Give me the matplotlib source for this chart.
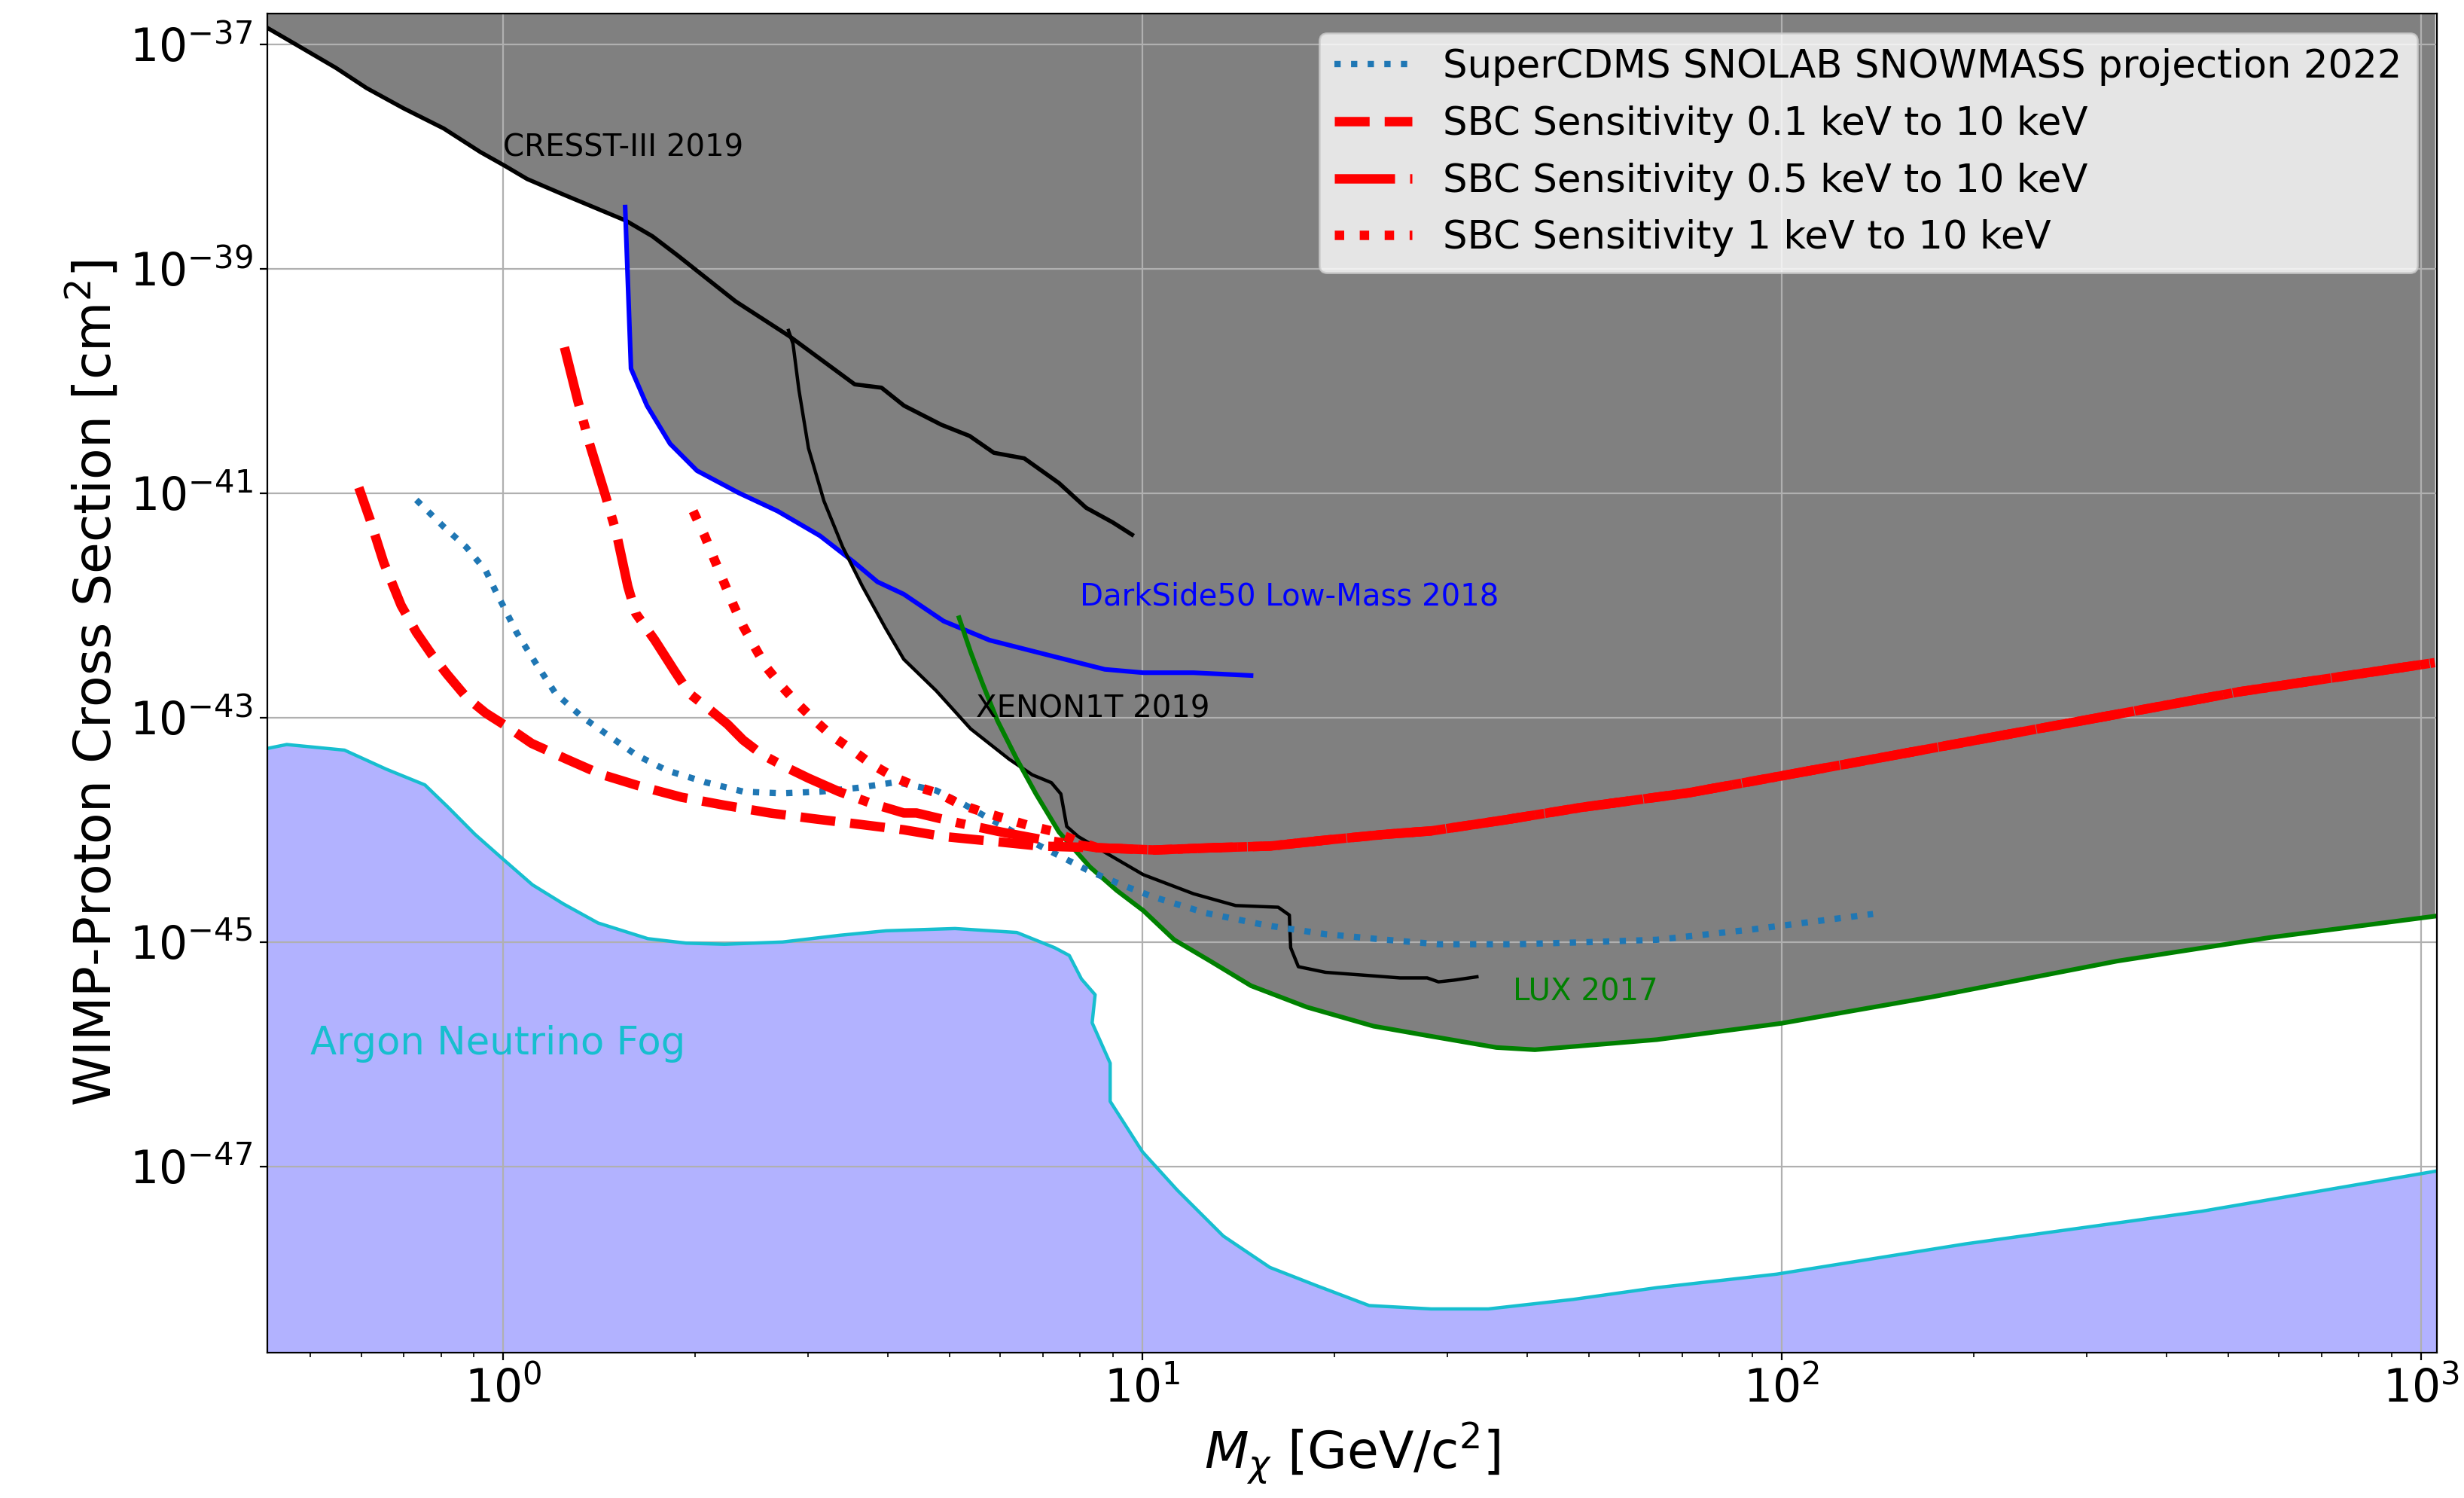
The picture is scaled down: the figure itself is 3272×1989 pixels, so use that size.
"""WIMP-proton SI exclusion limits, SBC sensitivity projections and the argon neutrino fog."""
import matplotlib
matplotlib.use("Agg")
import matplotlib.pyplot as plt
from matplotlib.ticker import NullLocator
import numpy as np

CRESST_M = [0.427, 0.474, 0.548, 0.612, 0.699, 0.808, 0.922, 1.005, 1.091, 1.233, 1.555,
            1.713, 1.875, 2.311, 2.804, 3.55, 3.91, 4.24, 4.85, 5.37, 5.86, 6.54, 7.41,
            8.17, 8.99, 9.64]
CRESST_LXS = [-36.85, -37.00, -37.21, -37.39, -37.57, -37.75, -37.96, -38.08, -38.20, -38.33,
              -38.57, -38.71, -38.88, -39.29, -39.60, -40.03, -40.06, -40.22, -40.39, -40.49,
              -40.64, -40.69, -40.91, -41.13, -41.26, -41.37]

DS50_M = [1.553, 1.586, 1.680, 1.826, 2.012, 2.343, 2.69, 3.133, 3.55, 3.853, 4.236, 4.89,
          5.77, 7.21, 8.74, 10.04, 12.03, 14.80]
DS50_LXS = [-38.45, -39.89, -40.22, -40.56, -40.80, -41.00, -41.16, -41.38, -41.62, -41.79,
            -41.90, -42.14, -42.31, -42.45, -42.57, -42.60, -42.60, -42.625]

XENON_M = [2.797, 2.843, 2.904, 3.006, 3.178, 3.40, 3.65, 3.964, 4.236, 4.76, 5.39, 6.19,
           6.73, 7.21, 7.46, 7.62, 7.94, 8.74, 10.04, 12.03, 14.0, 16.32, 16.99, 17.07,
           17.55, 19.35, 22.16, 25.31, 27.92, 29.07, 30.74, 33.39]
XENON_LXS = [-39.55, -39.67, -40.08, -40.60, -41.07, -41.48, -41.83, -42.20, -42.48, -42.76,
             -43.10, -43.37, -43.51, -43.58, -43.68, -43.97, -44.06, -44.20, -44.40, -44.57,
             -44.675, -44.69, -44.76, -45.05, -45.22, -45.27, -45.295, -45.32, -45.32,
             -45.355, -45.34, -45.31]

LUX_M = [5.17, 5.39, 5.62, 5.94, 6.365, 6.82, 7.41, 8.28, 9.12, 10.04, 11.22, 12.78, 14.80,
         18.09, 23.01, 28.31, 35.81, 41.13, 63.85, 99.9, 173.3, 335, 581, 1052]
LUX_LXS = [-42.11, -42.415, -42.69, -43.03, -43.37, -43.68, -44.02, -44.33, -44.54, -44.72,
           -44.98, -45.17, -45.39, -45.58, -45.75, -45.84, -45.94, -45.96, -45.87, -45.725,
           -45.486, -45.17, -44.96, -44.77]

FOG_M = [0.428, 0.459, 0.565, 0.657, 0.755, 0.821, 0.904, 0.995, 1.112, 1.243, 1.408, 1.685,
         1.935, 2.222, 2.738, 3.365, 3.976, 5.095, 6.365, 7.29, 7.69, 8.035, 8.44, 8.35, 8.91,
         8.91, 10.01, 11.34, 13.39, 15.84, 18.69, 22.65, 28.31, 34.78, 47.26, 63.9, 98.3,
         194.2, 454, 1061]
FOG_LXS = [-43.275, -43.24, -43.29, -43.46, -43.60, -43.80, -44.04, -44.25, -44.49, -44.66,
           -44.83, -44.97, -45.01, -45.02, -45.00, -44.94, -44.90, -44.88, -44.915, -45.05,
           -45.12, -45.33, -45.47, -45.72, -46.08, -46.42, -46.87, -47.21, -47.62, -47.90,
           -48.06, -48.24, -48.27, -48.27, -48.185, -48.08, -47.96, -47.69, -47.40, -47.04]

CDMS_M = [0.732, 0.808, 0.876, 0.940, 0.979, 1.0, 1.05, 1.124, 1.207, 1.327, 1.463, 1.613,
          1.803, 2.07, 2.377, 2.731, 3.135, 3.60, 4.123, 4.763, 5.25, 5.85, 6.63, 7.41, 8.28,
          9.38, 10.37, 12.54, 15.58, 19.35, 24.04, 29.08, 38.34, 50.55, 63.85, 89.4, 139.1]
CDMS_LXS = [-41.06, -41.30, -41.48, -41.69, -41.90, -42.00, -42.24, -42.51, -42.78, -42.99,
            -43.16, -43.33, -43.47, -43.575, -43.66, -43.675, -43.66, -43.625, -43.575,
            -43.65, -43.77, -43.92, -44.09, -44.23, -44.37, -44.50, -44.595, -44.74, -44.85,
            -44.93, -44.98, -45.02, -45.02, -45.00, -44.98, -44.89, -44.75]

# SBC projections: low-mass branch per threshold, common high-mass tail
SBC01_M = [0.595, 0.620, 0.651, 0.693, 0.732, 0.774, 0.818, 0.877, 0.940, 1.021, 1.109, 1.257,
           1.423, 1.635, 1.904, 2.216, 2.615, 3.048, 3.598, 4.236, 4.89, 6.02, 6.92]
SBC01_LXS = [-40.95, -41.24, -41.62, -42.00, -42.24, -42.44, -42.615, -42.82, -42.96, -43.09,
             -43.23, -43.37, -43.505, -43.61, -43.71, -43.78, -43.85, -43.90, -43.95, -44.00,
             -44.06, -44.11, -44.145]
SBC05_M = [1.248, 1.310, 1.366, 1.443, 1.504, 1.568, 1.613, 1.728, 1.853, 1.957, 2.097, 2.246,
           2.375, 2.544, 2.766, 3.006, 3.356, 3.75, 4.236, 4.436, 5.17, 6.02, 7.01]
SBC05_LXS = [-39.70, -40.18, -40.56, -41.00, -41.35, -41.83, -42.07, -42.31, -42.58, -42.785,
             -42.92, -43.06, -43.20, -43.33, -43.44, -43.54, -43.66, -43.76, -43.85, -43.85,
             -43.94, -44.02, -44.09]
SBC1_M = [1.984, 2.068, 2.141, 2.215, 2.295, 2.375, 2.476, 2.581, 2.729, 2.883, 3.068, 3.265,
          3.501, 3.76, 4.087, 4.436, 4.827, 5.17, 5.62, 6.107, 6.63, 7.21, 7.83]
SBC1_LXS = [-41.16, -41.38, -41.59, -41.79, -42.00, -42.185, -42.37, -42.55, -42.72, -42.87,
            -43.02, -43.16, -43.28, -43.41, -43.53, -43.615, -43.68, -43.77, -43.84, -43.90,
            -43.96, -44.01, -44.09]
SBC_TAIL_M = [8.51, 10.47, 12.88, 15.86, 19.51, 24.04, 28.31, 37.1, 48.7, 71.7, 139.1, 269,
              520, 1052]
SBC_TAIL_LXS = [-44.16, -44.18, -44.16, -44.145, -44.09, -44.04, -44.01, -43.91, -43.80,
                -43.67, -43.37, -43.07, -42.77, -42.51]


def xs(logs):
    return 10.0 ** np.asarray(logs)


def main():
    fig, ax = plt.subplots(figsize=(16.36, 9.945), dpi=200)
    fig.subplots_adjust(left=0.1085, right=0.989, bottom=0.097, top=0.991)
    ax.set_xscale("log"); ax.set_yscale("log")

    # ---- excluded region (union above every limit) ---- #
    limits = [(CRESST_M, CRESST_LXS), (DS50_M, DS50_LXS), (XENON_M, XENON_LXS), (LUX_M, LUX_LXS)]
    for m, s in limits:
        ax.fill_between(m, xs(s), 1e-36, color="gray", lw=0)

    # ---- neutrino fog ---- #
    ax.fill_between(FOG_M, xs(FOG_LXS), 1e-50, color="blue", alpha=0.3, lw=0)
    ax.plot(FOG_M, xs(FOG_LXS), color="tab:cyan", lw=1.6)

    ax.plot(CRESST_M, xs(CRESST_LXS), color="k", lw=2)
    ax.plot(DS50_M, xs(DS50_LXS), color="blue", lw=2.2)
    ax.plot(XENON_M, xs(XENON_LXS), color="k", lw=1.6)
    ax.plot(LUX_M, xs(LUX_LXS), color="green", lw=2.2)

    ax.plot(CDMS_M, xs(CDMS_LXS), ":", color="tab:blue", lw=3,
            label="SuperCDMS SNOLAB SNOWMASS projection 2022")
    for lo_m, lo_s, ls, lab in [(SBC01_M, SBC01_LXS, "--", "SBC Sensitivity 0.1 keV to 10 keV"),
                                (SBC05_M, SBC05_LXS, "-.", "SBC Sensitivity 0.5 keV to 10 keV"),
                                (SBC1_M, SBC1_LXS, ":", "SBC Sensitivity 1 keV to 10 keV")]:
        ax.plot(lo_m + SBC_TAIL_M, xs(lo_s + SBC_TAIL_LXS), ls, color="red", lw=4.5, label=lab)

    # ---- labels on the curves ---- #
    ax.text(1.0, 1e-38, "CRESST-III 2019", color="k", fontsize=14.5)
    ax.text(8.0, 1e-42, "DarkSide50 Low-Mass 2018", color="blue", fontsize=14.5)
    ax.text(5.5, 1e-43, "XENON1T 2019", color="k", fontsize=14.5)
    ax.text(38, 3e-46, "LUX 2017", color="green", fontsize=14.5)
    ax.text(0.5, 1e-46, "Argon Neutrino Fog", color="tab:cyan", fontsize=18.5)

    ax.set_xlim(0.428, 1060)
    ax.set_ylim(10 ** -48.66, 10 ** -36.725)
    ax.set_yticks([10.0 ** e for e in range(-47, -36, 2)])
    ax.yaxis.set_minor_locator(NullLocator())
    ax.tick_params(labelsize=21.5)
    ax.grid(True)
    ax.set_xlabel(r"$M_\chi$ [GeV/c$^2$]", fontsize=24.5)
    ax.set_ylabel(r"WIMP-Proton Cross Section [cm$^2$]", fontsize=24.5)
    ax.legend(loc="upper right", fontsize=18.5)

    fig.savefig("out.png", dpi=200)
    plt.close(fig)


if __name__ == "__main__":
    main()
